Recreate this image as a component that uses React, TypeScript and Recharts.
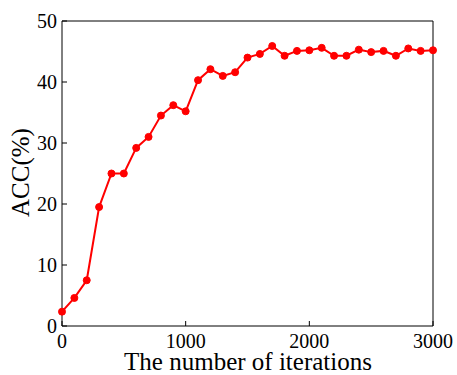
import React from 'react';
import { LineChart, Line, XAxis, YAxis, Label } from 'recharts';

const iterations = [
  0, 100, 200, 300, 400, 500, 600, 700, 800, 900, 1000,
  1100, 1200, 1300, 1400, 1500, 1600, 1700, 1800, 1900, 2000,
  2100, 2200, 2300, 2400, 2500, 2600, 2700, 2800, 2900, 3000
];

const accuracy = [
  2.35, 4.6, 7.5, 19.5, 25.0, 25.0, 29.2, 31.0, 34.5, 36.2, 35.2,
  40.3, 42.1, 41.0, 41.6, 44.0, 44.6, 45.9, 44.3, 45.1, 45.2,
  45.6, 44.3, 44.3, 45.3, 44.9, 45.1, 44.3, 45.5, 45.1, 45.2
];

const xTicks = [0, 1000, 2000, 3000];
const yTicks = [0, 10, 20, 30, 40, 50];

const FONT = '"Liberation Serif", "DejaVu Serif", serif';

const App: React.FC = () => {
  const data = iterations.map((iter, i) => ({ iter, acc: accuracy[i] }));

  const tickStyle = { fontFamily: FONT, fontSize: 20, fill: '#000' };

  return (
    <div style={{ position: 'absolute', left: 0, top: 0, background: '#fff' }}>
      <LineChart
        width={457}
        height={375}
        data={data}
        margin={{ top: 20, right: 23, left: 0, bottom: 0 }}
      >
        <XAxis
          xAxisId="bottom"
          dataKey="iter"
          type="number"
          domain={[0, 3000]}
          ticks={xTicks}
          height={49}
          tickSize={-5}
          tickMargin={13}
          tick={tickStyle}
          stroke="#000"
          interval={0}
        >
          <Label
            content={({ viewBox }: any) => (
              <text
                x={viewBox.x + viewBox.width / 2 + 0.5}
                y={369.5}
                textAnchor="middle"
                fontFamily={FONT}
                fontSize={25}
                fill="#000"
              >
                The number of iterations
              </text>
            )}
          />
        </XAxis>
        {/* top frame axis: ticks only, pointing inward */}
        <XAxis
          xAxisId="top"
          orientation="top"
          dataKey="iter"
          type="number"
          domain={[0, 3000]}
          ticks={xTicks}
          height={1}
          tickSize={-5}
          tick={false}
          stroke="#000"
        />
        <YAxis
          yAxisId="left"
          type="number"
          domain={[0, 50]}
          ticks={yTicks}
          width={62}
          tickSize={-5}
          tickMargin={10}
          tick={tickStyle}
          stroke="#000"
          interval={0}
        >
          <Label
            content={({ viewBox }: any) => {
              const cx = 20;
              const cy = viewBox.y + viewBox.height / 2 - 1;
              return (
                <text
                  x={cx}
                  y={cy}
                  transform={`rotate(-90, ${cx}, ${cy})`}
                  textAnchor="middle"
                  dominantBaseline="central"
                  fontFamily={FONT}
                  fontSize={25}
                  fill="#000"
                >
                  ACC(%)
                </text>
              );
            }}
          />
        </YAxis>
        {/* right frame axis: ticks only, pointing inward */}
        <YAxis
          yAxisId="right"
          orientation="right"
          type="number"
          domain={[0, 50]}
          ticks={yTicks}
          width={1}
          tickSize={-5}
          tick={false}
          stroke="#000"
        />
        <Line
          xAxisId="top"
          yAxisId="right"
          type="linear"
          dataKey="acc"
          stroke="none"
          dot={false}
          activeDot={false}
          legendType="none"
          isAnimationActive={false}
        />
        <Line
          xAxisId="bottom"
          yAxisId="left"
          type="linear"
          dataKey="acc"
          stroke="#ff0000"
          strokeWidth={2}
          dot={{ r: 3.5, fill: '#ff0000', stroke: '#ff0000', strokeWidth: 1 }}
          isAnimationActive={false}
        />
      </LineChart>
    </div>
  );
};

export default App;
